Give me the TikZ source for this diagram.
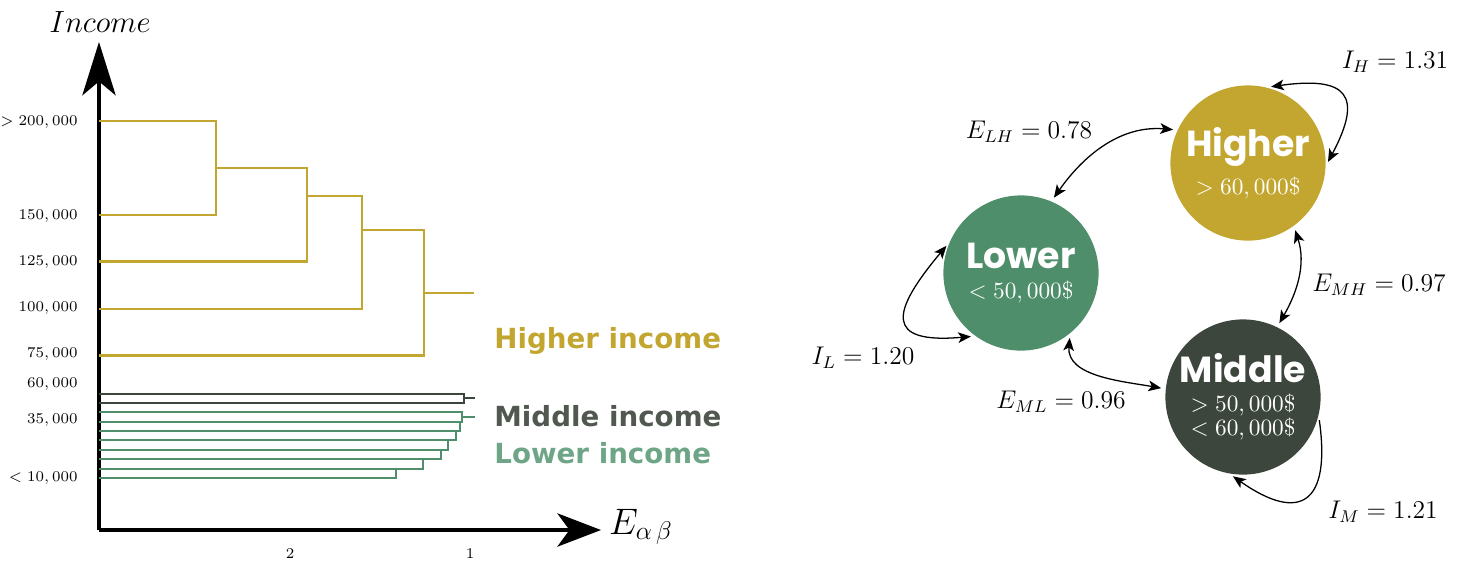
\documentclass[tikz,border=0pt]{standalone}
\usepackage{fontspec}
\usetikzlibrary{arrows.meta,positioning}
\newfontfamily\circfont{Poppins}
\newfontfamily\legfont{DejaVu Sans}
\definecolor{Gold}{HTML}{C2A630}
\definecolor{Sage}{HTML}{4E8E6A}
\definecolor{Slate}{HTML}{3C463C}
\definecolor{SlateText}{HTML}{505850}
\definecolor{SageText}{HTML}{6EA587}

\begin{document}
\begin{tikzpicture}[x=0.0165cm, y=0.0165cm,
  >={Stealth[length=6pt,width=5pt,inset=1.5pt]},
  yaxis/.style={line width=1.5pt, -{Stealth[length=0.88cm,width=0.55cm,inset=0.23cm]}},
  xaxis/.style={line width=1.5pt, -{Stealth[length=0.72cm,width=0.55cm,inset=0.2cm]}},
  branch/.style={line width=1pt},
  tick/.style={font=\fontsize{6.8}{8}\selectfont, anchor=east, inner sep=0pt},
  group/.style={circle, minimum size=2.56cm, inner sep=0pt, align=center,
                text=white, font=\fontsize{10.8}{9.5}\selectfont},
  link/.style={semithick, <->, shorten <=2pt, shorten >=2pt},
  rate/.style={font=\fontsize{11.5}{13}\selectfont},
  legend/.style={anchor=west, inner sep=0pt, font=\legfont\bfseries\fontsize{13}{15}\selectfont}]
  \useasboundingbox (0,0) rectangle (1461,-563);

  % axes
  \coordinate (origin) at (99,-530);
  \coordinate (ytop) at (99,-42);
  \coordinate (xend) at (601,-530);
  \draw[yaxis] (origin) -- (ytop);
  \draw[xaxis] (origin) -- (xend);
  \node[font=\Large] (ylab) at (100,-22) {$Income$};
  \node[font=\fontsize{16.5}{18}\selectfont] (xlab) at (641,-527) {$E_{\alpha\,\beta}$};
  \node[tick, anchor=center, font=\fontsize{7.5}{9}\selectfont] (t2) at (290,-554) {$2$};
  \node[tick, anchor=center, font=\fontsize{7.5}{9}\selectfont] (t1) at (470,-554) {$1$};

  % income ticks
  \node[tick] at (78,-122) {$>200,000$};
  \node[tick] at (78,-216) {$150,000$};
  \node[tick] at (78,-262) {$125,000$};
  \node[tick] at (78,-308) {$100,000$};
  \node[tick] at (78,-354) {$75,000$};
  \node[tick] at (78,-384) {$60,000$};
  \node[tick] at (78,-420) {$35,000$};
  \node[tick] at (78,-478) {$<10,000$};

  % higher income branch
  \begin{scope}[branch, Gold]
    \draw (99,-120.7) -| (215.7,-215) -- (99,-215);
    \draw (215.7,-167.7) -| (307.3,-261.5) -- (99,-261.5);
    \draw (307.3,-196) -| (361.7,-308.7) -- (99,-308.7);
    \draw (361.7,-230) -| (424.3,-355.5) -- (99,-355.5);
    \draw (424.3,-293.3) -- (474,-293.3);
  \end{scope}

  % middle income branch
  \draw[branch, Slate] (99,-394) -| (464,-402.7) -- (99,-402.7);
  \draw[branch, Slate] (464,-398.3) -- (475,-398.3);

  % lower income branch
  \foreach \a/\b/\x in {469/477.7/395.7, 459.3/469/423.3, 450/459.3/441,
                        440.3/450/447.7, 431/440.3/456, 421.7/431/460, 412.3/421.7/462.3}
    \draw[branch, Sage] (99,-\a) -| (\x,-\b) -- (99,-\b);
  \draw[branch, Sage] (462.3,-416.7) -- (475,-416.7);

  \node[legend, text=Gold] (leghigh) at (494,-341) {Higher income};
  \node[legend, text=SlateText] (legmid) at (494,-416) {Middle income};
  \node[legend, text=SageText] (leglow) at (494,-453) {Lower income};

  % groups
  \node[group, fill=Gold] (higher) at (1248,-163)
    {{\circfont\bfseries\fontsize{17}{17}\selectfont Higher}\\[4pt] $>60,000\$$};
  \node[group, fill=Sage] (lower) at (1021,-273)
    {{\circfont\bfseries\fontsize{17}{17}\selectfont Lower}\\[5pt] $<50,000\$$};
  \node[group, fill=Slate] (middle) at (1243,-397)
    {{\circfont\bfseries\fontsize{17}{17}\selectfont Middle}\\[4pt] $>50,000\$$\\ $<60,000\$$};

  % exchanges
  \draw[link] (lower.67) to[out=55, in=175] (higher.155);
  \draw[link] (higher.-54) to[out=-72, in=60] (middle.64);
  \draw[link] (lower.-51) to[out=-95, in=170] (middle.174);
  \draw[link] (higher.76) to[out=8, in=62, looseness=2.1] (higher.-2);
  \draw[link] (lower.157) to[out=230, in=185, looseness=2.4] (lower.234);
  \draw[link, ->] (middle.-14) to[out=-82, in=-35, looseness=2.1] (middle.-100);

  \node[rate] (elh) at (1029,-132) {$E_{LH} = 0.78$};
  \node[rate] (emh) at (1379,-285) {$E_{MH} = 0.97$};
  \node[rate] (eml) at (1061,-402) {$E_{ML} = 0.96$};
  \node[rate] (ih) at (1395,-62) {$I_H = 1.31$};
  \node[rate] (il) at (863,-358) {$I_L = 1.20$};
  \node[rate] (im) at (1383,-512) {$I_M = 1.21$};
\end{tikzpicture}
\end{document}
